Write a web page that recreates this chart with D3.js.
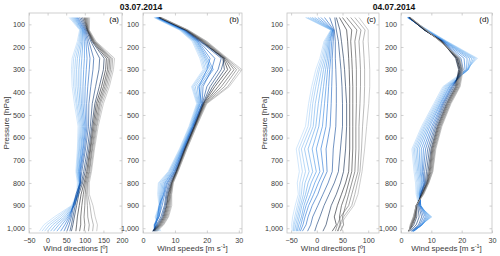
<!DOCTYPE html>
<html>
<head>
<meta charset="utf-8">
<script src="https://cdn.jsdelivr.net/npm/d3@7"></script>
<style>
  html, body { margin: 0; padding: 0; background: #fff; }
  svg { display: block; font-family: "Liberation Sans", Arial, sans-serif; }
</style>
</head>
<body>
<div id="chart"></div>
<script>
// pressure levels [hPa] shared by all profiles
const levels = [70, 125, 175, 250, 300, 375, 450, 550, 650, 750, 800, 850, 900, 950, 985, 1013]

// 03.07.2014 wind directions, profiles ordered light blue -> navy -> grey
const dirA = [
  [58, 86, 80, 66, 64, 66, 72, 82, 80, 76, 80, 78, 64, 18, -10, -22],
  [61, 88, 83, 70, 68, 70, 76, 85, 82, 78, 82, 79, 66, 26, -2, -15],
  [64, 89, 86, 75, 73, 74, 79, 88, 84, 79, 84, 80, 68, 33, 6, -8],
  [67, 91, 89, 80, 78, 79, 83, 91, 86, 81, 85, 81, 70, 40, 14, 0],
  [70, 93, 92, 86, 84, 84, 87, 94, 89, 83, 86, 82, 71, 46, 22, 8],
  [73, 94, 95, 92, 90, 89, 91, 97, 91, 84, 87, 83, 72, 51, 30, 16],
  [76, 96, 99, 99, 97, 95, 95, 100, 94, 86, 88, 82, 71, 55, 38, 25],
  [79, 98, 103, 106, 104, 101, 100, 103, 96, 87, 88, 80, 69, 58, 46, 35],
  [82, 100, 107, 114, 112, 108, 105, 106, 99, 89, 87, 78, 68, 61, 52, 44],
  [86, 102, 111, 124, 122, 116, 111, 110, 102, 92, 88, 76, 70, 64, 58, 52],
  [90, 104, 116, 140, 138, 129, 120, 115, 107, 97, 91, 80, 74, 68, 64, 60],
  [94, 106, 119, 152, 150, 139, 127, 119, 111, 101, 94, 84, 78, 72, 68, 64],
  [98, 107, 121, 158, 156, 145, 131, 122, 114, 105, 98, 90, 85, 80, 78, 76],
  [101, 108, 123, 163, 161, 150, 135, 125, 116, 108, 101, 96, 92, 89, 89, 86],
  [104, 109, 125, 167, 165, 154, 139, 128, 119, 111, 104, 101, 100, 98, 100, 98],
  [107, 110, 126, 171, 169, 158, 142, 131, 121, 113, 107, 105, 107, 108, 112, 110],
  [110, 111, 128, 175, 173, 162, 146, 133, 124, 116, 109, 108, 114, 118, 123, 121],
  [113, 112, 130, 180, 177, 166, 150, 136, 126, 118, 112, 112, 122, 128, 134, 132]
]

// 03.07.2014 wind speeds
const spdB = [
  [3.4, 11.4, 15.4, 17.8, 18.8, 15.2, 16.8, 14.4, 11.4, 7.9, 4.8, 4.6, 5.0, 3.8, 4.6, 5.6],
  [3.6, 11.6, 15.7, 18.2, 19.2, 15.5, 17.0, 14.6, 11.6, 8.1, 5.1, 4.9, 5.2, 4.0, 4.4, 5.2],
  [3.8, 11.8, 16.0, 18.6, 19.6, 15.9, 17.2, 14.8, 11.8, 8.3, 5.5, 5.2, 5.3, 4.2, 4.2, 4.9],
  [4.0, 12.0, 16.2, 19.0, 20.2, 16.4, 17.4, 15.0, 12.0, 8.6, 5.9, 5.5, 5.2, 4.4, 4.0, 4.6],
  [4.1, 12.2, 16.5, 19.4, 20.8, 17.0, 17.6, 15.2, 12.1, 8.9, 6.3, 5.8, 5.3, 4.6, 3.8, 4.2],
  [4.3, 12.4, 16.8, 19.8, 21.4, 17.6, 17.8, 15.3, 12.3, 9.2, 6.7, 6.1, 5.4, 4.8, 3.7, 4.0],
  [4.4, 12.6, 17.0, 20.3, 22.0, 18.2, 18.0, 15.5, 12.4, 9.4, 7.0, 6.4, 5.6, 5.0, 3.6, 3.8],
  [4.6, 12.8, 17.3, 21.0, 20.0, 17.5, 18.4, 15.6, 12.6, 9.7, 7.4, 6.5, 5.0, 4.6, 3.5, 3.5],
  [4.7, 12.9, 17.5, 22.5, 21.5, 18.8, 18.5, 15.7, 12.7, 9.9, 7.7, 6.8, 6.0, 5.0, 3.8, 3.4],
  [4.9, 13.1, 17.8, 24.5, 23.5, 20.0, 18.6, 15.9, 12.9, 10.1, 8.1, 7.2, 6.7, 5.6, 4.2, 3.2],
  [5.0, 13.2, 18.0, 25.5, 24.5, 21.0, 18.8, 16.0, 13.0, 10.3, 8.5, 7.5, 7.0, 6.0, 4.5, 3.0],
  [5.1, 13.4, 18.3, 25.0, 25.5, 21.8, 18.9, 16.1, 13.1, 10.4, 8.8, 7.8, 7.3, 6.3, 4.8, 3.1],
  [5.2, 13.5, 18.6, 25.2, 26.5, 22.5, 19.0, 16.2, 13.2, 10.5, 9.0, 8.0, 7.5, 6.6, 5.1, 3.2],
  [5.3, 13.7, 18.9, 25.5, 27.5, 23.5, 19.2, 16.3, 13.3, 10.6, 9.1, 8.3, 7.8, 6.9, 5.4, 3.4],
  [5.4, 13.8, 19.2, 25.8, 28.5, 24.5, 19.4, 16.4, 13.4, 10.7, 9.2, 8.5, 8.1, 7.2, 5.7, 3.6],
  [5.5, 13.9, 19.5, 26.0, 29.3, 25.5, 19.6, 16.5, 13.5, 10.8, 9.3, 8.7, 8.4, 7.5, 6.0, 3.9],
  [5.6, 14.0, 19.8, 26.2, 30.2, 26.5, 19.8, 16.7, 13.7, 10.9, 9.4, 8.9, 8.7, 7.8, 6.3, 4.2],
  [5.8, 14.2, 20.0, 26.5, 31.0, 27.0, 20.0, 16.8, 13.8, 11.0, 9.5, 9.0, 9.0, 8.0, 6.5, 4.5]
]

// 04.07.2014 wind directions
const dirC = [
  [-22, 27, 14, 6, -2, -10, -16, -22, -40, -34, -38, -36, -42, -47, -49, -48],
  [-20, 28, 16, 9, 2, -6, -12, -17, -35, -28, -33, -33, -38, -43, -46, -46],
  [-17, 28, 18, 12, 5, -2, -8, -12, -30, -22, -28, -30, -35, -40, -44, -45],
  [-13, 29, 20, 15, 9, 3, -3, -7, -24, -15, -23, -26, -32, -37, -41, -43],
  [-9, 30, 22, 18, 13, 8, 3, -2, -17, -8, -17, -22, -29, -34, -38, -40],
  [-4, 31, 24, 21, 17, 13, 9, 4, -9, -1, -11, -18, -25, -30, -35, -38],
  [2, 31, 26, 24, 21, 18, 15, 11, -1, 6, -4, -12, -21, -27, -31, -35],
  [8, 32, 29, 27, 25, 23, 21, 18, 8, 13, 3, -6, -16, -23, -27, -32],
  [15, 33, 32, 30, 30, 29, 28, 26, 18, 20, 10, 2, -9, -17, -21, -28],
  [25, 34, 36, 36, 37, 38, 38, 37, 32, 30, 22, 12, 2, -8, -12, -18],
  [35, 38, 42, 45, 47, 49, 50, 50, 46, 42, 34, 24, 14, 6, 0, -4],
  [38, 45, 48, 52, 54, 56, 58, 58, 56, 52, 46, 38, 28, 22, 18, 12],
  [44, 58, 60, 62, 63, 64, 64, 64, 64, 62, 56, 48, 40, 34, 38, 30],
  [50, 68, 66, 68, 69, 70, 70, 70, 70, 68, 62, 56, 48, 44, 46, 40],
  [58, 78, 74, 76, 77, 77, 77, 76, 76, 74, 68, 62, 56, 50, 52, 46],
  [66, 86, 82, 84, 85, 85, 84, 82, 82, 80, 74, 68, 62, 46, 40, 36],
  [74, 94, 90, 92, 93, 93, 92, 89, 87, 84, 79, 74, 68, 52, 44, 42],
  [82, 100, 100, 102, 103, 103, 101, 97, 93, 88, 84, 80, 72, 56, 46, 50]
]

// 04.07.2014 wind speeds
const spdD = [
  [2.0, 8.9, 15.2, 25.2, 21.5, 13.8, 10.8, 6.8, 3.6, 4.3, 4.8, 5.0, 5.8, 10.2, 6.4, 3.4],
  [2.1, 8.8, 15.0, 24.8, 21.8, 14.2, 11.2, 7.2, 4.0, 4.7, 5.2, 5.3, 6.0, 10.0, 6.6, 3.6],
  [2.1, 8.7, 14.9, 24.4, 22.0, 14.6, 11.6, 7.6, 4.4, 5.1, 5.6, 5.5, 6.2, 9.8, 6.8, 3.8],
  [2.2, 8.5, 14.7, 23.9, 22.2, 15.0, 12.0, 8.0, 4.9, 5.5, 6.0, 5.8, 6.4, 9.5, 7.0, 4.0],
  [2.3, 8.4, 14.5, 23.3, 22.2, 15.4, 12.4, 8.5, 5.4, 5.9, 6.4, 6.0, 6.5, 9.2, 7.0, 4.1],
  [2.3, 8.2, 14.4, 22.6, 22.0, 15.8, 12.8, 9.0, 6.0, 6.3, 6.8, 6.1, 6.5, 8.8, 7.0, 4.2],
  [2.4, 8.1, 14.2, 21.8, 21.6, 16.1, 13.1, 9.5, 6.7, 6.6, 7.1, 6.2, 6.5, 8.4, 6.9, 4.2],
  [2.5, 7.9, 14.0, 20.8, 21.1, 16.5, 13.5, 10.1, 7.4, 7.0, 7.5, 6.4, 6.3, 8.0, 6.6, 4.0],
  [2.5, 7.8, 13.9, 19.8, 20.5, 16.8, 13.8, 10.6, 8.1, 7.3, 7.7, 6.5, 6.1, 7.4, 6.2, 3.7],
  [2.6, 7.7, 13.8, 19.0, 20.0, 17.1, 14.1, 11.1, 8.8, 7.8, 7.9, 6.5, 5.8, 6.8, 5.8, 3.4],
  [2.7, 7.6, 13.6, 18.5, 19.5, 17.5, 14.5, 11.5, 9.4, 8.4, 8.1, 6.6, 5.5, 6.0, 5.0, 3.0],
  [2.8, 7.7, 13.5, 18.0, 19.0, 17.9, 14.9, 11.9, 9.9, 8.9, 8.4, 6.8, 5.2, 5.2, 4.2, 2.6],
  [2.8, 7.8, 13.4, 18.2, 19.2, 18.2, 15.2, 12.2, 10.2, 9.3, 8.6, 6.9, 5.1, 4.8, 3.8, 2.5],
  [2.9, 7.9, 13.3, 18.5, 19.5, 18.5, 15.5, 12.5, 10.5, 9.6, 8.8, 7.0, 5.0, 4.6, 3.5, 2.5],
  [3.0, 8.1, 13.1, 18.8, 19.8, 18.8, 15.8, 12.8, 10.8, 9.9, 8.9, 7.2, 5.0, 4.4, 3.3, 2.6],
  [3.0, 8.2, 13.0, 19.1, 20.1, 19.1, 16.1, 13.1, 11.1, 10.2, 9.0, 7.3, 5.0, 4.2, 3.2, 2.6],
  [3.1, 8.3, 12.9, 19.3, 20.3, 19.3, 16.3, 13.3, 11.3, 10.4, 9.1, 7.4, 5.0, 4.1, 3.1, 2.7],
  [3.1, 8.4, 12.8, 19.5, 20.5, 19.5, 16.5, 13.5, 11.5, 10.5, 9.2, 7.5, 5.0, 4.0, 3.0, 2.8]
]

const lineColors = ['#b3d6f8', '#9ccaf5', '#86bdf2', '#70b0ee', '#5aa2ea', '#4593e5',
  '#3183df', '#1f72d6', '#1660c0', '#104a9a', '#0b3670', '#0a2448',
  '#15181e', '#2f2f2f', '#4d4d4d', '#6c6c6c', '#8c8c8c', '#ababab']

const pTicks = [100, 200, 300, 400, 500, 600, 700, 800, 900, 1000]
const dirTicksA = [-50, 0, 50, 100, 150, 200]
const dirTicksC = [-50, 0, 50, 100]
const spdTicks = [0, 10, 20, 30]

const W = 500, H = 256
const yTop = 13, yBot = 233
const frameCol = '#c4c4c4', textCol = '#3a3a3a'

const panels = [
  { data: dirA, x0: 29, x1: 122, domain: [-50, 200], ticks: dirTicksA, tag: '(a)', xlabel: 'dir', ylabel: true },
  { data: spdB, x0: 143, x1: 242, domain: [0, 31], ticks: spdTicks, tag: '(b)', xlabel: 'spd', ylabel: false },
  { data: dirC, x0: 287, x1: 379, domain: [-58, 121], ticks: dirTicksC, tag: '(c)', xlabel: 'dir', ylabel: true },
  { data: spdD, x0: 401, x1: 492, domain: [0, 30], ticks: spdTicks, tag: '(d)', xlabel: 'spd', ylabel: false }
]

const svg = d3.select('#chart').append('svg')
  .attr('width', W)
  .attr('height', H)

const y = d3.scaleLinear().domain([50, 1021]).range([yTop, yBot])

function styleAxis(g) {
  g.select('.domain').remove()
  g.selectAll('line').attr('stroke', frameCol).attr('stroke-width', 0.8)
  g.selectAll('text').attr('fill', textCol).style('font-size', '7.2px')
}

panels.forEach(p => {
  const x = d3.scaleLinear().domain(p.domain).range([p.x0, p.x1])
  const g = svg.append('g')

  // profiles
  const line = d3.line()
    .x(d => x(d[0]))
    .y(d => y(d[1]))
  p.data.forEach((prof, i) => {
    g.append('path')
      .datum(prof.map((v, k) => [v, levels[k]]))
      .attr('d', line)
      .attr('fill', 'none')
      .attr('stroke', lineColors[i])
      .attr('stroke-width', 0.6)
  })

  // axes, ticks pointing inwards
  g.append('g')
    .attr('transform', `translate(${p.x0},0)`)
    .call(d3.axisLeft(y).tickValues(pTicks).tickSize(-2.5).tickPadding(4))
    .call(styleAxis)
    .selectAll('text').attr('x', -4)
  g.append('g')
    .attr('transform', `translate(${p.x1},0)`)
    .call(d3.axisRight(y).tickValues(pTicks).tickSize(-2.5).tickFormat(''))
    .call(styleAxis)
  g.append('g')
    .attr('transform', `translate(0,${yBot})`)
    .call(d3.axisBottom(x).tickValues(p.ticks).tickSize(-2.5).tickPadding(4))
    .call(styleAxis)
    .selectAll('text').attr('y', 5)
  g.append('g')
    .attr('transform', `translate(0,${yTop})`)
    .call(d3.axisTop(x).tickValues(p.ticks).tickSize(-2.5).tickFormat(''))
    .call(styleAxis)

  g.append('rect')
    .attr('x', p.x0).attr('y', yTop)
    .attr('width', p.x1 - p.x0).attr('height', yBot - yTop)
    .attr('fill', 'none')
    .attr('stroke', frameCol)
    .attr('stroke-width', 0.8)

  g.append('text')
    .attr('x', p.x1 - 3).attr('y', yTop + 9)
    .attr('text-anchor', 'end')
    .style('font-size', '8px')
    .attr('fill', '#111')
    .text(p.tag)

  const xl = g.append('text')
    .attr('x', (p.x0 + p.x1) / 2).attr('y', 251)
    .attr('text-anchor', 'middle')
    .style('font-size', '8px')
    .attr('fill', textCol)
  if (p.xlabel === 'dir') {
    xl.text('Wind directions [º]')
  } else {
    xl.text('Wind speeds [m s')
    xl.append('tspan').attr('dy', -3).style('font-size', '5.5px').text('-1')
    xl.append('tspan').attr('dy', 3).text(']')
  }

  if (p.ylabel) {
    g.append('text')
      .attr('transform', `translate(${p.x0 - 20},${(yTop + yBot) / 2}) rotate(-90)`)
      .attr('text-anchor', 'middle')
      .style('font-size', '8px')
      .attr('fill', textCol)
      .text('Pressure [hPa]')
  }
})

// date titles
svg.append('text')
  .attr('x', 141).attr('y', 10)
  .attr('text-anchor', 'middle')
  .style('font-size', '8.5px').style('font-weight', 'bold')
  .attr('fill', '#111')
  .text('03.07.2014')
svg.append('text')
  .attr('x', 394).attr('y', 10)
  .attr('text-anchor', 'middle')
  .style('font-size', '8.5px').style('font-weight', 'bold')
  .attr('fill', '#111')
  .text('04.07.2014')
</script>
</body>
</html>
